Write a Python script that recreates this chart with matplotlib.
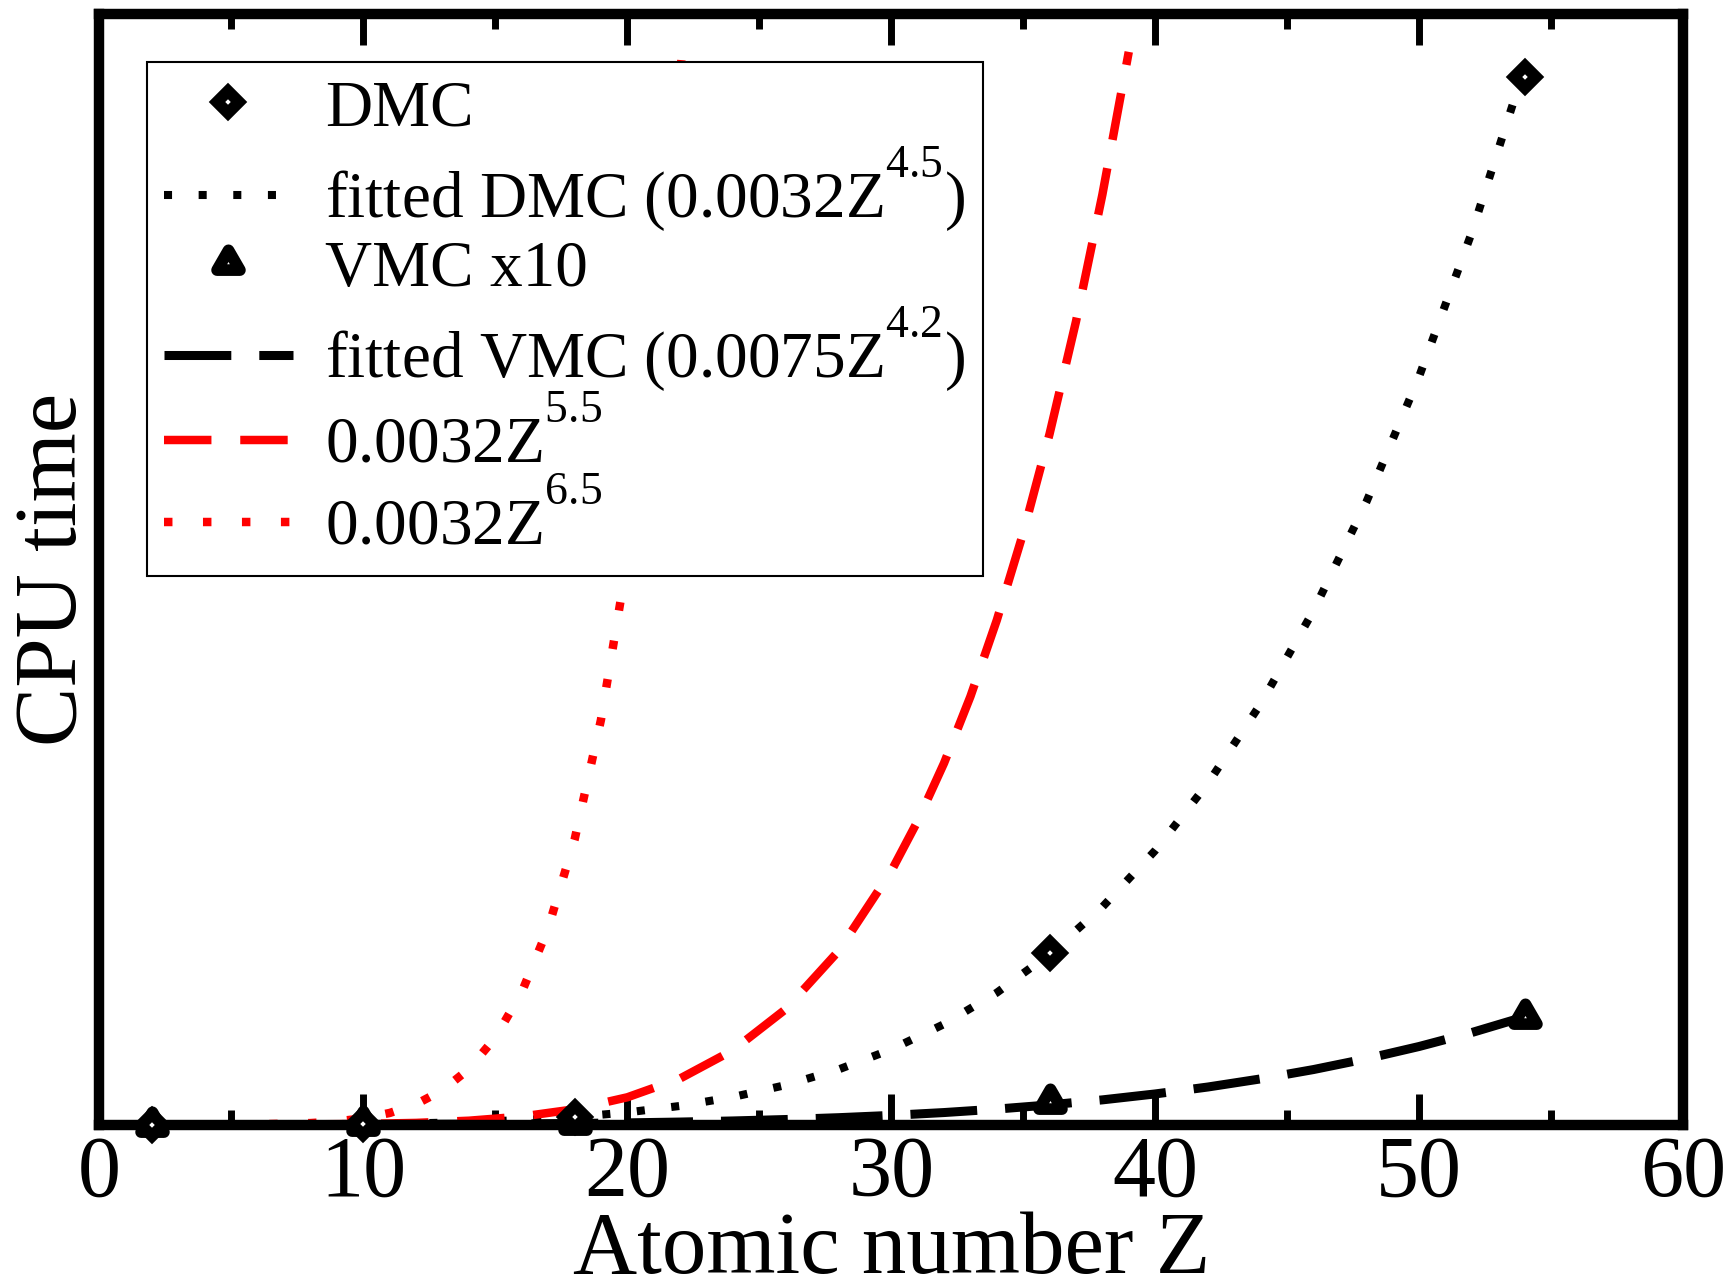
import matplotlib
matplotlib.use('Agg')
import matplotlib.pyplot as plt
import matplotlib._mathtext as mathtext_internals
from matplotlib.markers import MarkerStyle
from matplotlib.path import Path

#-----------------------------
# Data
#-----------------------------
z_atoms = [2, 10, 18, 36, 54]
dmc_time = [0, 100, 1400, 32500, 198000]
vmc_time_x10 = [0, 20, 200, 4300, 20400]

# fitted curves, sampled every 2 in Z
z_fit = [2, 4, 6, 8, 10, 12, 14, 16, 18, 20, 22, 24, 26, 28,
         30, 32, 34, 36, 38, 40, 42, 44, 46, 48, 50, 52, 54]
dmc_fit = [0.07, 1.6, 10, 37, 101, 230, 460, 839, 1425, 2290, 3516, 5201,
           7456, 10408, 14197, 18981, 24935, 32249, 41132, 51808, 64532,
           79558, 97174, 117690, 141420, 168720, 199940]
vmc_fit = [0.02, 0.36, 2.0, 6.7, 17, 37, 70, 123, 202, 315, 469, 677, 947,
           1293, 1727, 2265, 2922, 3714, 4662, 5783, 7096, 8632, 10397,
           12434, 14754, 17398, 20378]

# red guide curves
z_p55 = [2, 4, 6, 8, 10, 12, 14, 16, 18, 20, 22, 24, 26, 28,
         30, 31, 32, 33, 34, 35, 36, 37, 38, 39]
p55 = [0.02, 0.7, 6.8, 33, 114, 310, 725, 1510, 2886, 5152, 8702, 14043,
       21809, 32785, 47915, 57384, 68332, 80935, 95376, 111860, 130608,
       151850, 175840, 202840]
z_p65 = [2, 4, 6, 8, 9, 10, 11, 12, 13, 14, 15, 16, 17, 18, 19, 20, 21, 22, 22.1]
p65 = [0.03, 3, 42, 276, 595, 1178, 2192, 3862, 6494, 10512, 16460, 25043,
       37134, 53833, 76517, 106806, 146650, 198420, 204350]

#---------
# Styling
#---------
plt.rcParams['font.family'] = ['Liberation Serif', 'DejaVu Serif']
plt.rcParams['mathtext.fontset'] = 'custom'
plt.rcParams['mathtext.rm'] = 'Liberation Serif'
plt.rcParams['mathtext.it'] = 'Liberation Serif:italic'
plt.rcParams['mathtext.bf'] = 'Liberation Serif:bold'
# raise exponents higher, like the original (grace-style) superscripts
mathtext_internals.FontConstantsBase.sup1 = 1.35

fig = plt.figure(figsize=(17.34, 12.84), dpi=100)
ax = fig.add_axes([0.05738, 0.1242, 0.9132, 0.8649])

tri = MarkerStyle(Path([(0, 1), (-0.866, -0.5), (0.866, -0.5), (0, 1)], closed=True),
                  joinstyle='miter')

#---------
# Plotting
#---------
ax.plot(z_atoms, dmc_time, ls='none', marker='D', ms=10.7, mew=8.4,
        mfc='white', mec='black', clip_on=False, zorder=6, label='DMC')
ax.plot(z_fit, dmc_fit, color='black', lw=5.8, ls=(0, (1, 3.3)),
        label=r'fitted DMC (0.0032$\mathrm{Z}^{4.5}$)')
ax.plot(z_atoms, vmc_time_x10, ls='none', marker=tri, ms=19, mew=8.4,
        mfc='white', mec='black', clip_on=False, zorder=5, label='VMC x10')
ax.plot(z_fit, vmc_fit, color='black', lw=6.5, ls=(0, (7.4, 3.1)),
        label=r'fitted VMC (0.0075$\mathrm{Z}^{4.2}$)')
ax.plot(z_p55, p55, color='red', lw=6.1, ls=(0, (5.6, 3.4)),
        label=r'0.0032$\mathrm{Z}^{5.5}$')
ax.plot(z_p65, p65, color='red', lw=6.1, ls=(0, (1, 3.6)),
        label=r'0.0032$\mathrm{Z}^{6.5}$')

ax.set_xlim(0, 60)
ax.set_ylim(0, 2.1e5)
ax.set_xticks(range(0, 61, 10))
ax.set_xticks(range(5, 60, 10), minor=True)
ax.set_yticks([])
ax.tick_params(axis='x', which='both', direction='in', top=True, bottom=True,
               width=5, labelsize=62, pad=8)
ax.tick_params(axis='x', which='major', length=22)
ax.tick_params(axis='x', which='minor', length=11)
for s in ax.spines.values():
    s.set_linewidth(7.5)

ax.set_xlabel('Atomic number Z', fontsize=64)
ax.xaxis.set_label_coords(0.5, -0.1337)
ax.xaxis.label.set_va('baseline')
ax.set_ylabel('CPU time', fontsize=64)
ax.yaxis.set_label_coords(-0.0148, 0.5)
ax.yaxis.label.set_va('baseline')

leg = ax.legend(loc='upper left', bbox_to_anchor=(0.0297, 0.957),
                borderaxespad=0, fontsize=47, frameon=True, fancybox=False,
                edgecolor='black', framealpha=1, handlelength=1.97,
                handletextpad=0.5, borderpad=0.27, labelspacing=0.08,
                numpoints=1)
leg.get_frame().set_linewidth(1.5)

fig.savefig('out.png', dpi=100)
